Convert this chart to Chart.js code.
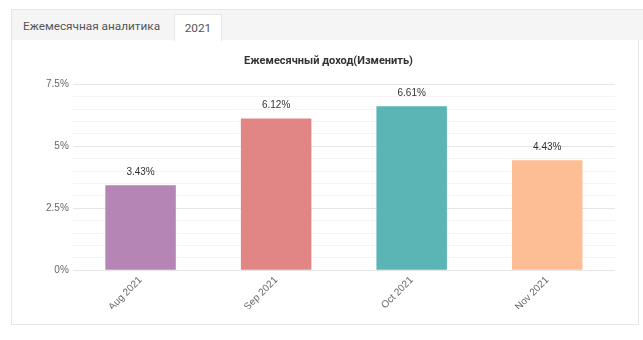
<!DOCTYPE html>
<html>
<head>
<meta charset="utf-8">
<script src="https://cdn.jsdelivr.net/npm/chart.js@4"></script>
<style>
  body { margin: 0; background: #fff; font-family: Roboto, "Liberation Sans", sans-serif; }
  .tabs {
    position: absolute; left: 11px; top: 9px; right: 0; height: 30px;
    background: #f5f5f5; border-top: 1px solid #e6e6e6; border-left: 1px solid #e6e6e6;
  }
  .tab { position: absolute; top: 0; height: 30px; line-height: 32px; font-size: 11.8px; color: #555; }
  .tab1 { left: 11px; }
  .tab2 {
    left: 162px; top: 4px; height: 26px; line-height: 26px; width: 46px; text-align: center;
    background: #fff; border: 1px solid #e6e6e6; border-bottom: none;
  }
  .panel {
    position: absolute; left: 11px; top: 40px; width: 626px; height: 284px;
    border-left: 1px solid #e6e6e6; border-right: 1px solid #e6e6e6; border-bottom: 1px solid #e6e6e6;
  }
  .wrap { position: absolute; left: 0; top: 0; width: 626px; height: 284px; }
</style>
</head>
<body>
<div class="tabs">
  <div class="tab tab1">Ежемесячная аналитика</div>
  <div class="tab tab2">2021</div>
</div>
<div class="panel">
  <div class="wrap"><canvas id="myChart"></canvas></div>
</div>
<script>
let months = ['Aug 2021', 'Sep 2021', 'Oct 2021', 'Nov 2021'];
let income = [3.43, 6.12, 6.61, 4.43];
let barColors = ['#b586b5', '#e28585', '#5bb5b5', '#febe95'];
let chartTitle = 'Ежемесячный доход(Изменить)';

// values written above each bar
let valueLabels = {
    id: 'valueLabels',
    afterDatasetsDraw(chart) {
        let ctx = chart.ctx;
        let meta = chart.getDatasetMeta(0);
        ctx.save();
        ctx.font = '10px "Liberation Sans", Arial, sans-serif';
        ctx.fillStyle = '#333';
        ctx.textAlign = 'center';
        ctx.textBaseline = 'bottom';
        meta.data.forEach((bar, i) => {
            ctx.fillText(income[i].toFixed(2) + '%', bar.x, bar.y - 8);
        });
        ctx.restore();
    }
};

let myChart = document.getElementById('myChart').getContext('2d');
let incomeChart = new Chart(myChart, {
    type: 'bar',
    data: {
        labels: months,
        datasets: [{
            data: income,
            backgroundColor: barColors,
            barPercentage: 0.65,
            categoryPercentage: 0.8
        }]
    },
    options: {
        responsive: true,
        maintainAspectRatio: false,
        animation: false,
        layout: { padding: { left: 30, right: 23, top: 9, bottom: 15 } },
        plugins: {
            legend: { display: false },
            tooltip: { enabled: false },
            title: {
                display: true,
                text: chartTitle,
                color: '#333',
                font: { family: 'Roboto', size: 11, weight: 'bold' },
                padding: { top: 6, bottom: 16 }
            }
        },
        scales: {
            x: {
                grid: { display: false },
                border: { display: false },
                ticks: {
                    minRotation: 45,
                    maxRotation: 45,
                    padding: -4,
                    color: '#666',
                    font: { family: '"Liberation Sans", Arial', size: 10 }
                }
            },
            y: {
                min: 0,
                max: 7.5,
                border: { display: false },
                grid: {
                    drawTicks: false,
                    color: ctx => (Math.round(ctx.tick.value * 10) % 25 === 0 ? '#e6e6e6' : '#f4f4f4')
                },
                ticks: {
                    stepSize: 0.5,
                    autoSkip: false,
                    padding: 4,
                    color: '#666',
                    font: { family: '"Liberation Sans", Arial', size: 10 },
                    callback: v => (Math.round(v * 10) % 25 === 0 ? v + '%' : '')
                }
            }
        }
    },
    plugins: [valueLabels]
});
</script>
</body>
</html>
